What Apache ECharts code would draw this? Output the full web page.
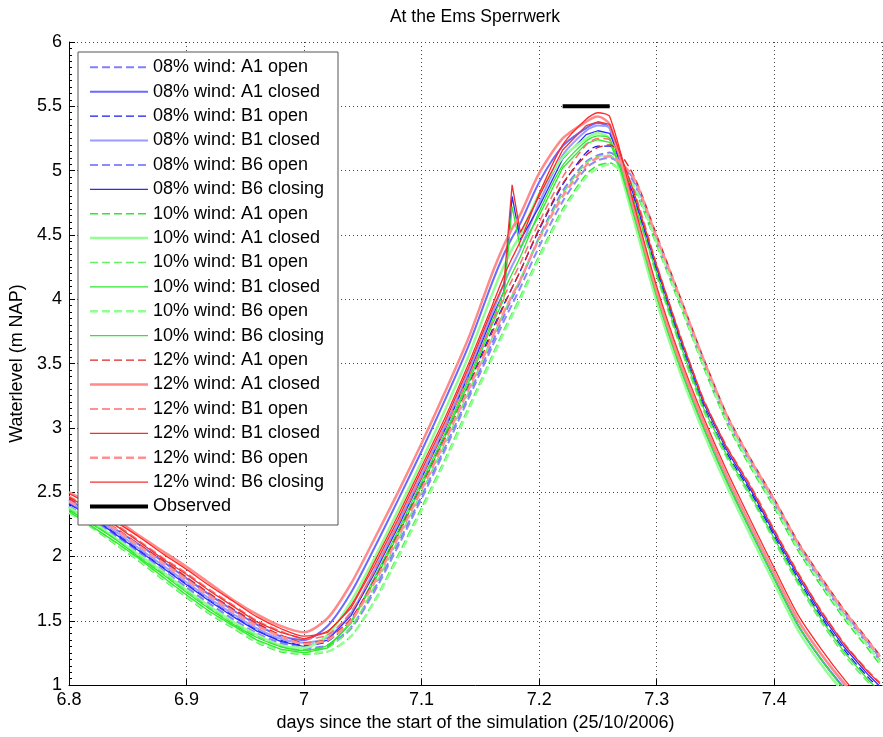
<!DOCTYPE html>
<html>
<head>
<meta charset="utf-8">
<script src="https://cdn.jsdelivr.net/npm/echarts@6/dist/echarts.min.js"></script>
<style>
html,body{margin:0;padding:0;background:#fff;}
#chart{width:883px;height:737px;}
</style>
</head>
<body>
<div id="chart"></div>
<script>
// ---- data ----
var xDays = [6.80,6.82,6.84,6.86,6.88,6.90,6.92,6.94,6.96,6.98,7.00,7.02,7.04,7.06,7.08,7.10,7.12,7.14,7.16,7.17,7.177,7.184,7.20,7.22,7.24,7.25,7.26,7.28,7.30,7.32,7.34,7.36,7.38,7.40,7.42,7.44,7.46,7.48,7.49];

var w08_A1_open    = [2.39,2.28,2.16,2.03,1.89,1.76,1.63,1.51,1.40,1.33,1.29,1.31,1.45,1.75,2.10,2.47,2.85,3.25,3.66,3.87,4.01,4.14,4.48,4.84,5.07,5.12,5.14,4.92,4.45,3.98,3.50,3.06,2.72,2.41,2.08,1.80,1.54,1.31,1.19];
var w08_A1_closed  = [2.44,2.33,2.21,2.09,1.96,1.83,1.70,1.58,1.47,1.38,1.35,1.46,1.72,2.07,2.44,2.82,3.22,3.64,4.13,4.35,4.48,4.59,4.91,5.19,5.33,5.37,5.33,4.68,4.02,3.47,3.00,2.58,2.20,1.83,1.47,1.20,0.97,0.76,0.66];
var w08_B1_open    = [2.41,2.30,2.18,2.05,1.92,1.79,1.66,1.54,1.43,1.35,1.31,1.34,1.51,1.83,2.19,2.56,2.94,3.34,3.76,3.96,4.09,4.22,4.54,4.89,5.14,5.19,5.19,4.80,4.22,3.67,3.17,2.80,2.50,2.16,1.83,1.53,1.27,1.06,0.97];
var w08_B1_closed  = [2.42,2.31,2.19,2.06,1.93,1.80,1.67,1.55,1.44,1.36,1.33,1.37,1.56,1.90,2.26,2.64,3.02,3.44,3.89,4.12,4.26,4.39,4.75,5.12,5.31,5.35,5.33,4.72,4.06,3.51,3.04,2.62,2.24,1.87,1.51,1.24,1.00,0.79,0.69];
var w08_B6_open    = [2.39,2.27,2.15,2.02,1.89,1.75,1.62,1.50,1.40,1.32,1.28,1.30,1.44,1.73,2.08,2.45,2.83,3.23,3.63,3.83,3.96,4.09,4.41,4.76,5.02,5.08,5.10,4.94,4.47,4.00,3.52,3.08,2.74,2.43,2.10,1.82,1.56,1.33,1.21];
var w08_B6_closing = [2.41,2.30,2.17,2.04,1.91,1.78,1.65,1.53,1.42,1.34,1.30,1.35,1.54,1.87,2.23,2.61,2.99,3.41,3.86,4.06,4.80,4.46,4.72,5.09,5.28,5.31,5.29,4.82,4.24,3.69,3.19,2.82,2.52,2.18,1.85,1.55,1.29,1.08,0.99];

var w10_A1_open    = [2.34,2.22,2.09,1.96,1.82,1.68,1.55,1.44,1.33,1.26,1.24,1.26,1.38,1.66,2.01,2.38,2.76,3.16,3.56,3.76,3.89,4.02,4.34,4.70,4.97,5.04,5.06,4.87,4.42,3.95,3.47,3.03,2.69,2.38,2.05,1.77,1.51,1.28,1.16];
var w10_A1_closed  = [2.38,2.27,2.14,2.01,1.88,1.74,1.61,1.49,1.39,1.31,1.29,1.39,1.65,1.99,2.36,2.74,3.14,3.56,4.04,4.26,4.39,4.50,4.82,5.10,5.25,5.29,5.25,4.63,3.98,3.43,2.96,2.54,2.16,1.79,1.43,1.16,0.93,0.72,0.62];
var w10_B1_open    = [2.37,2.26,2.13,2.00,1.87,1.73,1.60,1.48,1.38,1.30,1.27,1.29,1.45,1.77,2.13,2.50,2.88,3.28,3.70,3.90,4.03,4.16,4.47,4.82,5.06,5.11,5.12,4.76,4.18,3.63,3.13,2.76,2.46,2.12,1.79,1.49,1.23,1.02,0.93];
var w10_B1_closed  = [2.36,2.25,2.13,1.99,1.86,1.72,1.59,1.47,1.37,1.30,1.27,1.31,1.50,1.84,2.20,2.58,2.96,3.38,3.83,4.06,4.20,4.33,4.68,5.04,5.23,5.27,5.25,4.67,4.02,3.47,3.00,2.58,2.20,1.83,1.47,1.20,0.96,0.75,0.65];
var w10_B6_open    = [2.34,2.23,2.10,1.97,1.83,1.69,1.56,1.45,1.34,1.27,1.25,1.26,1.38,1.65,1.99,2.36,2.74,3.14,3.54,3.74,3.87,4.00,4.32,4.68,4.95,5.02,5.05,4.89,4.44,3.97,3.49,3.05,2.71,2.40,2.07,1.79,1.53,1.30,1.18];
var w10_B6_closing = [2.35,2.23,2.11,1.98,1.84,1.70,1.57,1.46,1.35,1.28,1.25,1.29,1.48,1.81,2.17,2.55,2.93,3.35,3.80,4.00,4.72,4.40,4.65,5.02,5.21,5.24,5.22,4.78,4.20,3.65,3.15,2.78,2.48,2.14,1.81,1.51,1.25,1.04,0.95];

var w12_A1_open    = [2.45,2.34,2.22,2.09,1.97,1.84,1.71,1.59,1.48,1.39,1.33,1.36,1.52,1.82,2.17,2.54,2.92,3.32,3.74,3.95,4.09,4.22,4.55,4.90,5.12,5.18,5.20,4.97,4.50,4.02,3.54,3.10,2.76,2.45,2.12,1.84,1.58,1.35,1.23];
var w12_A1_closed  = [2.50,2.40,2.29,2.16,2.04,1.92,1.79,1.66,1.55,1.46,1.41,1.52,1.79,2.14,2.50,2.88,3.28,3.70,4.20,4.42,4.55,4.66,4.98,5.25,5.38,5.42,5.36,4.72,4.06,3.51,3.04,2.62,2.24,1.87,1.51,1.24,1.01,0.80,0.70];
var w12_B1_open    = [2.47,2.36,2.25,2.12,1.99,1.87,1.74,1.62,1.50,1.42,1.36,1.39,1.57,1.89,2.25,2.62,3.00,3.40,3.82,4.02,4.15,4.28,4.60,4.95,5.20,5.25,5.24,4.86,4.27,3.72,3.22,2.85,2.55,2.21,1.88,1.58,1.32,1.11,1.02];
var w12_B1_closed  = [2.49,2.39,2.27,2.15,2.02,1.90,1.77,1.65,1.53,1.44,1.38,1.42,1.62,1.96,2.32,2.70,3.08,3.50,3.95,4.18,4.32,4.45,4.82,5.20,5.40,5.45,5.42,4.76,4.10,3.55,3.08,2.66,2.28,1.91,1.55,1.28,1.04,0.83,0.73];
var w12_B6_open    = [2.43,2.33,2.21,2.08,1.95,1.82,1.69,1.57,1.46,1.38,1.32,1.35,1.50,1.80,2.15,2.52,2.90,3.30,3.70,3.90,4.03,4.15,4.47,4.80,5.04,5.10,5.11,4.95,4.48,4.01,3.53,3.09,2.75,2.44,2.11,1.83,1.57,1.34,1.22];
var w12_B6_closing = [2.46,2.36,2.24,2.11,1.98,1.86,1.73,1.61,1.49,1.41,1.36,1.41,1.60,1.93,2.29,2.67,3.05,3.47,3.92,4.12,4.89,4.52,4.80,5.16,5.35,5.38,5.36,4.85,4.26,3.71,3.21,2.84,2.54,2.20,1.87,1.57,1.31,1.10,1.01];

var obsDays  = [7.22, 7.26];
var obsLevel = [5.5, 5.5];

var seriesNames = [
  '08% wind: A1 open','08% wind: A1 closed','08% wind: B1 open','08% wind: B1 closed','08% wind: B6 open','08% wind: B6 closing',
  '10% wind: A1 open','10% wind: A1 closed','10% wind: B1 open','10% wind: B1 closed','10% wind: B6 open','10% wind: B6 closing',
  '12% wind: A1 open','12% wind: A1 closed','12% wind: B1 open','12% wind: B1 closed','12% wind: B6 open','12% wind: B6 closing'
];
var seriesValues = [
  w08_A1_open,w08_A1_closed,w08_B1_open,w08_B1_closed,w08_B6_open,w08_B6_closing,
  w10_A1_open,w10_A1_closed,w10_B1_open,w10_B1_closed,w10_B6_open,w10_B6_closing,
  w12_A1_open,w12_A1_closed,w12_B1_open,w12_B1_closed,w12_B6_open,w12_B6_closing
];
var xTickLabels = ['6.8','6.9','7','7.1','7.2','7.3','7.4'];

// ---- styles ----
var styles = [
  {c:'#8080ff', w:2,   d:true },
  {c:'#6a6aff', w:2,   d:false},
  {c:'#1a1af0', w:1.3, d:true },
  {c:'#9c9cff', w:2,   d:false},
  {c:'#8a8aff', w:2,   d:true },
  {c:'#2b2bff', w:1.3, d:false, spike:true},
  {c:'#2ee82e', w:1.5, d:true },
  {c:'#93ff93', w:2.5, d:false},
  {c:'#66ee66', w:1.5, d:true },
  {c:'#2ee82e', w:1.3, d:false},
  {c:'#93ff93', w:2.5, d:true },
  {c:'#2ee82e', w:1.3, d:false, spike:true},
  {c:'#dc2424', w:1.3, d:true },
  {c:'#ff8a8a', w:2.5, d:false},
  {c:'#ff6e6e', w:1.5, d:true },
  {c:'#ff2a2a', w:1.3, d:false},
  {c:'#ff9090', w:2.5, d:true },
  {c:'#f03030', w:1.3, d:false, spike:true}
];

var FONT = 'Liberation Sans, Arial, Helvetica, sans-serif';

var series = seriesNames.map(function(name, i){
  var st = styles[i];
  return {
    name: name, type: 'line', symbol: 'none', clip: true,
    smooth: st.spike ? false : 0.25,
    data: xDays.map(function(x, k){ return [x, seriesValues[i][k]]; }),
    lineStyle: {color: st.c, width: st.w, type: st.d ? [8,4] : 'solid'},
    itemStyle: {color: st.c},
    emphasis: {disabled: true},
    animation: false, z: 2
  };
});
series.push({
  name: 'Observed', type: 'line', symbol: 'none',
  data: obsDays.map(function(x, k){ return [x, obsLevel[k]]; }),
  lineStyle: {color: '#000', width: 4},
  itemStyle: {color: '#000'},
  emphasis: {disabled: true},
  animation: false, z: 2
});

var chart = echarts.init(document.getElementById('chart'), null, {renderer: 'canvas'});
chart.setOption({
  backgroundColor: '#fff',
  animation: false,
  textStyle: {fontFamily: FONT},
  grid: {left: 69, right: 1, top: 42, bottom: 51, show: false, containLabel: false},
  xAxis: [{
    type: 'value', min: 6.8, max: 7.4917, interval: 0.1,
    name: 'days since the start of the simulation (25/10/2006)',
    nameLocation: 'middle', nameGap: 27,
    nameTextStyle: {fontSize: 18, color: '#000', fontFamily: FONT},
    axisLine: {show: true, onZero: false, lineStyle: {color: '#000', width: 1}},
    axisTick: {show: true, inside: true, length: 6, lineStyle: {color: '#000'}},
    axisLabel: {fontSize: 18, color: '#000', margin: 6, fontFamily: FONT, showMaxLabel: false,
      formatter: function(v){ var k = Math.round((v - 6.8) / 0.1); return (Math.abs(v - (6.8 + k*0.1)) < 1e-6 && xTickLabels[k]) ? xTickLabels[k] : ''; }},
    splitLine: {show: true, lineStyle: {color: '#444', type: [1,3], width: 1}}
  }],
  yAxis: [{
    type: 'value', min: 1, max: 6, interval: 0.5,
    name: 'Waterlevel (m NAP)', nameLocation: 'middle', nameGap: 38,
    nameTextStyle: {fontSize: 18, color: '#000', fontFamily: FONT},
    axisLine: {show: true, lineStyle: {color: '#000', width: 1}},
    axisTick: {show: true, inside: true, length: 6, lineStyle: {color: '#000'}},
    minorTick: {show: true, splitNumber: 10, length: 3, lineStyle: {color: '#000'}},
    axisLabel: {fontSize: 18, color: '#000', margin: 7, fontFamily: FONT},
    splitLine: {show: true, lineStyle: {color: '#444', type: [1,3], width: 1}}
  }],
  legend: {
    orient: 'vertical', left: 88, top: 58.3, padding: 0,
    itemWidth: 58, itemHeight: 14, itemGap: 6.4,
    itemStyle: {opacity: 0},
    lineStyle: {width: 'inherit'},
    textStyle: {fontSize: 18, color: '#000', fontFamily: FONT, lineHeight: 18},
    selectedMode: false, z: 5,
    data: seriesNames.concat(['Observed'])
  },
  graphic: [
    {type: 'rect', shape: {x: 78, y: 52, width: 260, height: 473}, style: {fill: '#fff', stroke: '#555', lineWidth: 1}, z: 4, silent: true},
    {type: 'text', x: 475, y: 17, style: {text: 'At the Ems Sperrwerk', fontSize: 17.5, fontFamily: FONT, fill: '#000', textAlign: 'center', textVerticalAlign: 'middle'}, z: 5}
  ],
  series: series
});
</script>
</body>
</html>
